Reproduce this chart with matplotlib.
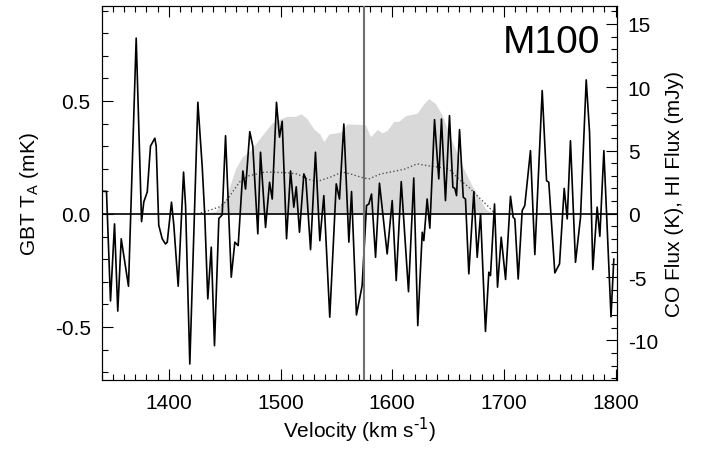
import numpy as np
import matplotlib
matplotlib.use('Agg')
import matplotlib.pyplot as plt
from matplotlib.ticker import MultipleLocator, FormatStrFormatter

plt.rcParams['font.family'] = ['Liberation Sans', 'DejaVu Sans']
plt.rcParams['axes.unicode_minus'] = False

#############################
## data

# GBT spectrum (left axis, mK)
vel = [1340.4, 1344.2, 1347.8, 1351.4, 1354.3, 1357.4, 1363.9, 1370.8, 1375.6, 1377.6,
       1380.7, 1383.6, 1387.5, 1388.7, 1391.0, 1394.1, 1397.0, 1398.6, 1402.4, 1404.5,
       1408.4, 1413.2, 1415.0, 1418.8, 1426.0, 1429.9, 1432.2, 1434.9, 1438.0, 1440.9,
       1444.8, 1447.8, 1450.8, 1453.7, 1455.9, 1459.1, 1462.1, 1466.3, 1468.7, 1472.5,
       1475.2, 1479.7, 1482.1, 1486.6, 1490.2, 1492.6, 1496.4, 1499.1, 1501.5, 1505.4,
       1509.0, 1511.9, 1514.1, 1517.0, 1520.9, 1522.7, 1526.9, 1531.3, 1535.2, 1538.8,
       1544.1, 1549.9, 1552.8, 1556.7, 1561.2, 1563.6, 1568.0, 1573.1, 1577.0, 1579.1,
       1581.5, 1585.1, 1588.6, 1595.5, 1600.0, 1603.6, 1608.1, 1614.6, 1619.3, 1622.9,
       1626.9, 1628.3, 1631.3, 1633.7, 1637.9, 1641.7, 1644.1, 1647.7, 1651.3, 1654.3,
       1656.1, 1657.6, 1660.3, 1663.6, 1665.6, 1668.6, 1673.1, 1676.1, 1679.1, 1683.5,
       1686.5, 1688.0, 1691.6, 1694.3, 1697.6, 1701.5, 1705.9, 1708.3, 1709.8, 1712.8,
       1716.4, 1718.7, 1723.8, 1727.7, 1734.3, 1738.2, 1740.2, 1745.6, 1749.8, 1754.0,
       1756.7, 1759.6, 1764.1, 1768.6, 1773.7, 1776.7, 1779.6, 1783.5, 1785.9, 1789.5,
       1795.9, 1798.4]
ta = [0.10, 0.10, -0.385, -0.044, -0.43, -0.11, -0.32, 0.778, -0.034, 0.053,
      0.097, 0.30, 0.335, 0.30, -0.05, -0.11, -0.133, -0.125, 0.052, -0.05,
      -0.32, 0.185, 0.037, -0.664, 0.494, 0.21, -0.007, -0.376, -0.147, -0.583,
      -0.02, -0.004, 0.346, -0.007, -0.28, -0.125, -0.14, 0.19, 0.11, 0.364,
      0.30, -0.088, 0.273, -0.06, 0.14, 0.066, 0.494, 0.34, 0.41, -0.11,
      0.19, 0.03, 0.12, -0.081, 0.177, 0.155, -0.158, 0.273, -0.118, 0.081,
      -0.457, 0.133, 0.066, 0.398, -0.125, 0.099, -0.447, -0.317, 0.037, 0.044,
      0.088, -0.192, 0.136, -0.177, 0.059, -0.295, 0.143, -0.344, 0.159, -0.494,
      -0.081, -0.118, 0.066, -0.063, 0.417, 0.155, 0.42, 0.059, 0.435, 0.118,
      0.113, 0.081, 0.373, 0.074, 0.066, -0.265, 0.099, -0.192, 0.0, -0.52,
      -0.258, -0.273, 0.044, -0.324, -0.103, -0.29, 0.078, -0.015, -0.022, -0.288,
      0.015, 0.037, 0.28, -0.18, 0.546, 0.147, 0.14, -0.261, -0.221, 0.113,
      -0.022, 0.324, -0.214, -0.015, 0.593, 0.36, -0.246, 0.03, -0.099, 0.28,
      -0.455, -0.2]

# CO profile (right axis, K)
co_vel = [1430.2, 1441.8, 1450.8, 1459.7, 1465.7, 1473.1, 1483.6, 1492.6, 1500.0, 1506.0,
          1513.4, 1518.5, 1523.9, 1529.8, 1535.2, 1538.8, 1543.2, 1553.7, 1559.7, 1573.1,
          1576.1, 1580.6, 1586.6, 1591.0, 1595.5, 1601.4, 1605.9, 1611.9, 1622.4, 1628.3,
          1632.8, 1638.8, 1644.8, 1653.7, 1662.7, 1671.6, 1677.5, 1683.5, 1686.5, 1695.2]
co_flux = [0.0, 0.2, 1.2, 3.55, 4.5, 5.0, 6.2, 7.2, 7.5, 7.7,
           7.7, 7.9, 7.5, 6.7, 6.3, 5.7, 6.3, 6.45, 7.1, 7.05,
           7.0, 6.1, 6.65, 6.4, 6.6, 7.3, 7.3, 7.75, 7.95, 8.7,
           9.1, 8.7, 7.8, 5.7, 3.8, 2.2, 1.3, 0.4, 0.2, 0.0]

# HI profile (right axis, mJy)
hi_vel = [1425.4, 1435.8, 1444.8, 1450.8, 1456.8, 1464.2, 1471.6, 1486.6, 1504.5, 1514.9,
          1523.9, 1532.9, 1544.8, 1555.2, 1562.7, 1571.6, 1579.0, 1589.6, 1601.4, 1611.9,
          1622.4, 1631.3, 1640.3, 1650.7, 1659.6, 1668.6, 1677.5, 1683.5, 1690.9]
hi_flux = [0.0, 0.26, 0.53, 0.92, 1.7, 2.6, 3.0, 3.3, 3.25, 3.15,
           2.75, 2.55, 2.9, 3.3, 3.15, 2.9, 2.75, 3.15, 3.35, 3.55,
           3.95, 3.8, 3.7, 3.55, 2.75, 2.1, 1.3, 0.8, 0.13]

v_sys = 1575.
label = 'M100'

#############################
## figure

fig = plt.figure(figsize=(7.02, 4.52), dpi=100)
ax = fig.add_axes([0.145, 0.158, 0.7335, 0.826])
ax2 = ax.twinx()

# CO + HI on the right axis
ax2.fill_between(co_vel, co_flux, 0, color='#d9d9d9', lw=0, zorder=1)
ax2.plot(hi_vel, hi_flux, ls=':', color='#555555', lw=1.0, zorder=2)
ax2.axhline(0, color='black', lw=1.2, zorder=3)
ax2.set_ylim(-13.1, 16.4)

# GBT spectrum on the left axis, drawn on top
ax.set_zorder(ax2.get_zorder() + 1)
ax.patch.set_visible(False)
ax.plot(vel, ta, color='black', lw=1.2, zorder=4, solid_joinstyle='round')
ax.axvline(v_sys, color='#707070', lw=1.5, zorder=5)
ax.set_xlim(1340, 1801)
ax.set_ylim(-0.733, 0.919)

## ticks
ax.xaxis.set_major_locator(MultipleLocator(100))
ax.xaxis.set_minor_locator(MultipleLocator(10))
ax.yaxis.set_major_locator(MultipleLocator(0.5))
ax.yaxis.set_minor_locator(MultipleLocator(0.1))
ax.yaxis.set_major_formatter(FormatStrFormatter('%.1f'))
ax2.yaxis.set_major_locator(MultipleLocator(5))
ax2.yaxis.set_minor_locator(MultipleLocator(1))

ax.tick_params(axis='x', which='both', direction='in', top=True, labelsize=15, pad=10)
ax.tick_params(axis='y', which='both', direction='in', right=False, labelsize=15, pad=8)
ax.tick_params(which='major', length=8, width=0.8)
ax.tick_params(which='minor', length=4, width=0.8)
ax2.tick_params(axis='y', which='both', direction='in', labelsize=15, pad=8)
ax2.tick_params(which='major', length=8, width=0.8)
ax2.tick_params(which='minor', length=4, width=0.8)

## labels
ax.set_xlabel('Velocity (km s$^{\\text{-1}}$)', fontsize=15, labelpad=2)
ax.set_ylabel('GBT T$_{\\mathregular{A}}$ (mK)', fontsize=15, labelpad=10)
ax2.set_ylabel('CO Flux (K), HI Flux (mJy)', fontsize=15, labelpad=5)
ax.text(0.9676, 0.877, label, transform=ax.transAxes, ha='right', va='baseline', fontsize=28)

fig.savefig('out.png', dpi=100)
